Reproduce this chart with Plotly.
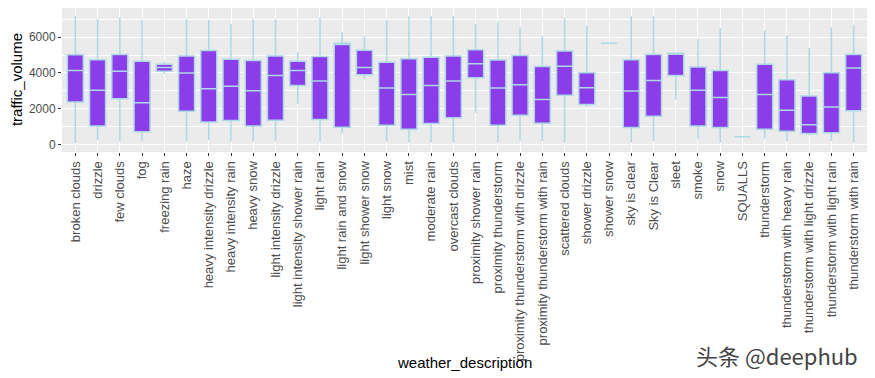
import plotly.graph_objects as go

categories = ["broken clouds", "drizzle", "few clouds", "fog", "freezing rain", "haze",
              "heavy intensity drizzle", "heavy intensity rain", "heavy snow",
              "light intensity drizzle", "light intensity shower rain", "light rain",
              "light rain and snow", "light shower snow", "light snow", "mist",
              "moderate rain", "overcast clouds", "proximity shower rain",
              "proximity thunderstorm", "proximity thunderstorm with drizzle",
              "proximity thunderstorm with rain", "scattered clouds", "shower drizzle",
              "shower snow", "sky is clear", "Sky is Clear", "sleet", "smoke", "snow",
              "SQUALLS", "thunderstorm", "thunderstorm with heavy rain",
              "thunderstorm with light drizzle", "thunderstorm with light rain",
              "thunderstorm with rain"]

upper_fence = [7200, 7020, 7100, 6980, 4640, 7020, 6980, 6740, 7020, 7020, 5160, 7100,
               6280, 6050, 6980, 7170, 7170, 7170, 6740, 6830, 6560, 6050, 7060, 6650,
               5660, 7170, 7170, 5100, 5900, 6500, 430, 6370, 6090, 5390, 6560, 6700]
q3 = [5010, 4740, 5030, 4660, 4490, 4940, 5260, 4770, 4700, 4940, 4660, 4920,
      5660, 5270, 4600, 4790, 4880, 4940, 5290, 4720, 4980, 4360, 5220, 4010,
      5660, 4740, 5030, 5100, 4330, 4140, 430, 4480, 3620, 2710, 4010, 5030]
median = [4140, 3030, 4100, 2340, 4310, 3990, 3120, 3250, 3010, 3860, 4140, 3550,
          5590, 4310, 3160, 2790, 3300, 3550, 4510, 3160, 3340, 2510, 4380, 3170,
          5660, 2990, 3580, 5060, 3030, 2620, 430, 2790, 1910, 1110, 2100, 4270]
q1 = [2380, 1040, 2560, 710, 4100, 1860, 1260, 1340, 1040, 1360, 3300, 1390,
      970, 3900, 1080, 850, 1170, 1500, 3730, 1080, 1630, 1190, 2750, 2230,
      5660, 950, 1580, 3860, 1040, 950, 430, 850, 740, 610, 650, 1890]
lower_fence = [80, 240, 150, 150, 3950, 150, 240, 150, 150, 150, 2280, 150,
               610, 3640, 150, 100, 100, 100, 1780, 100, 200, 200, 100, 2100,
               5660, 100, 200, 2510, 330, 100, 430, 330, 200, 520, 200, 100]

FILL = "#8A3DE8"
LINE = "#ADD8E6"
FONT = "Liberation Sans, Arial, sans-serif"

fig = go.Figure()
fig.add_trace(go.Box(
    x=categories, q1=q1, median=median, q3=q3,
    lowerfence=lower_fence, upperfence=upper_fence,
    fillcolor=FILL, line=dict(color=LINE, width=1.5),
    whiskerwidth=0, width=0.72, boxpoints=False, showlegend=False,
    hoverinfo="skip",
))

# page body has an 8px default margin, so the figure is 8px smaller on each axis
fig.update_layout(
    width=867, height=370,
    margin=dict(l=54, r=8, t=0, b=226),
    paper_bgcolor="white", plot_bgcolor="#EBEBEB",
    showlegend=False,
    xaxis=dict(
        type="category", categoryorder="array", categoryarray=categories,
        range=[-0.6, 35.6], tickangle=-90, automargin=False,
        tickfont=dict(family=FONT, size=13, color="#4D4D4D"),
        showgrid=True, gridcolor="white", gridwidth=1.2,
        ticks="outside", ticklen=3, tickcolor="#333333", tickwidth=1,
        zeroline=False, showline=False, fixedrange=True,
    ),
    yaxis=dict(
        range=[-420, 7630], tickvals=[0, 2000, 4000, 6000], automargin=False,
        tickfont=dict(family=FONT, size=12, color="#4D4D4D"),
        showgrid=True, gridcolor="white", gridwidth=1.2,
        minor=dict(tickvals=[1000, 3000, 5000, 7000], showgrid=True,
                   gridcolor="white", gridwidth=0.6),
        ticks="outside", ticklen=3, tickcolor="#333333", tickwidth=1,
        zeroline=False, showline=False, fixedrange=True,
    ),
    annotations=[
        dict(text="traffic_volume", xref="paper", yref="paper", x=-0.057, y=0.5,
             xanchor="center", yanchor="middle", textangle=-90, showarrow=False,
             font=dict(family=FONT, size=15, color="black")),
        dict(text="weather_description", xref="paper", yref="paper", x=0.5, y=-1.465,
             xanchor="center", yanchor="middle", showarrow=False,
             font=dict(family=FONT, size=15, color="black")),
        dict(text="头条 @deephub", xref="paper", yref="paper", x=0.991, y=-1.41,
             xanchor="right", yanchor="middle", showarrow=False,
             font=dict(family="Noto Sans CJK SC, sans-serif", size=22, color="#444444")),
    ],
)

fig.write_html("out.html")
